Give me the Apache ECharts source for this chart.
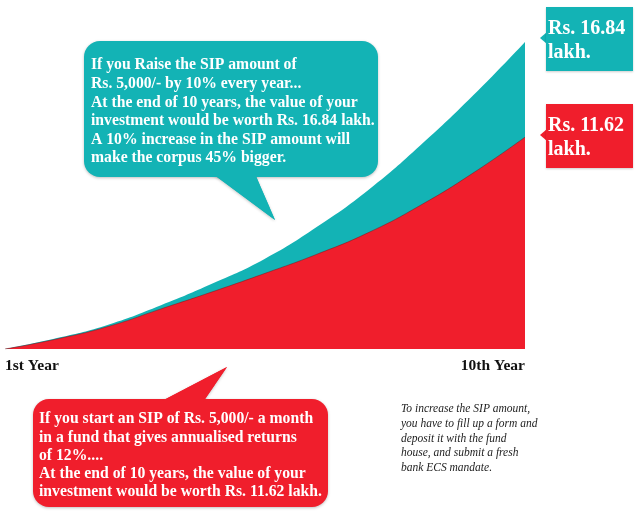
<!DOCTYPE html>
<html>
<head>
<meta charset="utf-8">
<script src="https://cdn.jsdelivr.net/npm/echarts@6/dist/echarts.min.js"></script>
<style>
html,body{margin:0;padding:0;background:#fff;}
#c{width:640px;height:517px;}
</style>
</head>
<body>
<div id="c"></div>
<script>
// Data (values in Rs. lakh)
var years = [0, 1, 2, 3, 4, 5, 6, 7, 8, 9, 10];
var xTickLabels = ['1st Year', '10th Year'];
var sipValues = [0, 0.55, 1.25, 2.2, 3.15, 4.15, 5.2, 6.4, 7.9, 9.65, 11.62];
var stepUpValues = [0, 0.6, 1.35, 2.4, 3.6, 4.95, 6.7, 8.75, 11.2, 13.9, 16.84];
var endLabels = ['Rs. 16.84\nlakh.', 'Rs. 11.62\nlakh.'];
var tealNote = [
  'If you Raise the SIP amount of',
  'Rs. 5,000/- by 10% every year...',
  'At the end of 10 years, the value of your',
  'investment would be worth Rs. 16.84 lakh.',
  'A 10% increase in the SIP amount will',
  'make the corpus 45% bigger.'
];
var redNote = [
  'If you start an SIP of Rs. 5,000/- a month',
  'in a fund that gives annualised returns',
  'of 12%....',
  'At the end of 10 years, the value of your',
  'investment would be worth Rs. 11.62 lakh.'
];
var sideNote = [
  'To increase the SIP amount,',
  'you have to fill up a form and',
  'deposit it with the fund',
  'house, and submit a fresh',
  'bank ECS mandate.'
];

var TEAL = '#13B3B5';
var RED = '#F01E2C';
var SERIF = '"Liberation Serif", "DejaVu Serif", serif';

var chart = echarts.init(document.getElementById('c'), null, {renderer: 'canvas'});
var lastIdx = years.length - 1;

var option = {
  backgroundColor: '#ffffff',
  animation: false,
  grid: {left: 5, right: 115, top: 42, bottom: 168, containLabel: false},
  xAxis: {
    type: 'category',
    data: years,
    boundaryGap: false,
    axisLine: {show: false},
    axisTick: {show: false},
    splitLine: {show: false},
    axisLabel: {
      interval: function (idx) { return idx === 0 || idx === lastIdx; },
      formatter: function (v, idx) { return idx === 0 ? xTickLabels[0] : xTickLabels[1]; },
      alignMinLabel: 'left',
      alignMaxLabel: 'right',
      margin: 9,
      color: '#111',
      fontFamily: SERIF,
      fontWeight: 'bold',
      fontSize: 15.5
    }
  },
  yAxis: {
    type: 'value',
    min: 0,
    max: 16.84,
    show: false,
    splitLine: {show: false}
  },
  series: [
    {
      name: 'Step-up SIP',
      type: 'line',
      data: stepUpValues,
      smooth: 0.5,
      showSymbol: false,
      lineStyle: {width: 0, color: TEAL},
      areaStyle: {color: TEAL, opacity: 1},
      z: 2
    },
    {
      name: 'SIP',
      type: 'line',
      data: sipValues,
      smooth: 0.5,
      showSymbol: false,
      lineStyle: {width: 1, color: 'rgba(110,20,25,0.45)'},
      areaStyle: {color: RED, opacity: 1},
      z: 3
    }
  ]
};
chart.setOption(option);

function bubble(x, y, w, h, tail, color, lines, tx, ty, lh, fs) {
  return [
    {
      type: 'polygon', z: 10,
      shape: {points: tail},
      style: {fill: color, shadowBlur: 3, shadowColor: 'rgba(0,0,0,0.25)', shadowOffsetY: 1}
    },
    {
      type: 'rect', z: 11,
      shape: {x: x, y: y, width: w, height: h, r: 16},
      style: {fill: color, shadowBlur: 3, shadowColor: 'rgba(0,0,0,0.25)', shadowOffsetY: 1}
    },
    {
      type: 'polygon', z: 12,
      shape: {points: tail},
      style: {fill: color}
    },
    {
      type: 'text', z: 13, x: tx, y: ty,
      style: {
        text: lines.join('\n'),
        fill: '#ffffff',
        font: 'bold ' + fs + 'px ' + SERIF,
        lineHeight: lh,
        verticalAlign: 'top',
        align: 'left'
      }
    }
  ];
}

var gfx = [];
gfx = gfx.concat(bubble(84, 41, 294, 136, [[213, 174], [255, 174], [275, 220]], TEAL, tealNote, 91, 56, 18.6, 15.7));
gfx = gfx.concat(bubble(33, 399, 295, 108, [[160, 402], [203, 402], [227, 367]], RED, redNote, 39, 410, 18.3, 15.7));

// side value boxes
function valueBox(y, color, text) {
  return [
    {type: 'polygon', z: 10, shape: {points: [[547, y + 25], [540, y + 31], [547, y + 37]]}, style: {fill: color}},
    {type: 'rect', z: 10, shape: {x: 546, y: y, width: 87, height: 64},
      style: {fill: color, shadowBlur: 2, shadowColor: 'rgba(0,0,0,0.2)', shadowOffsetY: 1}},
    {type: 'text', z: 11, x: 548, y: y + 10,
      style: {text: text, fill: '#ffffff', font: 'bold 20px ' + SERIF, lineHeight: 24, verticalAlign: 'top', align: 'left'}}
  ];
}
gfx = gfx.concat(valueBox(7, TEAL, endLabels[0]));
gfx = gfx.concat(valueBox(104, RED, endLabels[1]));

gfx.push({
  type: 'text', z: 11, x: 401, y: 402,
  style: {
    text: sideNote.join('\n'),
    fill: '#222222',
    font: 'italic 11.5px ' + SERIF,
    lineHeight: 14.6,
    verticalAlign: 'top',
    align: 'left'
  }
});

chart.setOption({graphic: {elements: gfx}});
</script>
</body>
</html>
